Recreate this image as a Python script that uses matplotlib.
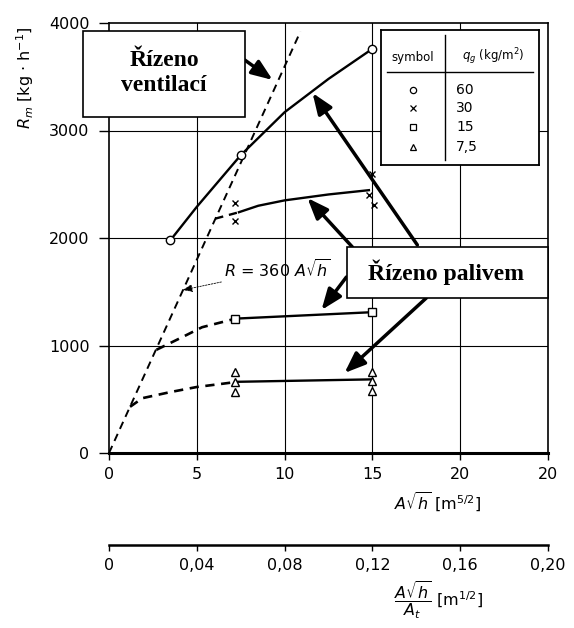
import matplotlib

matplotlib.use("Agg")
import matplotlib.pyplot as plt
from matplotlib.patches import Rectangle

plt.rcParams["font.family"] = ["DejaVu Sans"]
plt.rcParams["mathtext.fontset"] = "dejavusans"

# Ventilací řízená mez  R = 360 A*sqrt(h)
vent_x = [0, 10.9]
vent_y = [0, 3920]

# q_g = 60 kg/m2 (kroužky)
c60_x = [3.5, 7.5, 15]
c60_y = [1980, 2770, 3760]
curve60_x = [3.5, 5, 7.5, 10, 12.5, 15]
curve60_y = [1980, 2290, 2770, 3170, 3480, 3760]

# q_g = 30 (křížky)
x30_x = [7.2, 7.2, 15, 14.8, 15.1]
x30_y = [2330, 2160, 2600, 2400, 2310]
curve30_x = [7.4, 8.5, 10, 12.5, 14.8]
curve30_y = [2240, 2300, 2350, 2405, 2445]
dash30_x = [6.05, 7.4]
dash30_y = [2180, 2240]

# q_g = 15 (čtverečky)
s15_x = [7.2, 15]
s15_y = [1250, 1310]
dash15_x = [2.7, 4.2, 5.3, 6.5, 7.2]
dash15_y = [960, 1080, 1170, 1220, 1250]

# q_g = 7,5 (trojúhelníky)
t75_x = [7.2, 7.2, 7.2, 15, 15, 15]
t75_y = [755, 660, 570, 755, 670, 575]
curve75_x = [7.2, 15]
curve75_y = [662, 685]
dash75_x = [1.2, 1.9, 3.5, 5.0, 6.5, 7.2]
dash75_y = [430, 510, 567, 614, 645, 660]

x_ticks = [0, 5, 10, 15, 20, 25]
x_labels = ["0", "5", "10", "15", "20", "20"]
y_ticks = [0, 1000, 2000, 3000, 4000]
x2_labels = ["0", "0,04", "0,08", "0,12", "0,16", "0,20"]

legend_markers = ["o", "x", "s", "^"]
legend_qg = ["60", "30", "15", "7,5"]

# šipky (ocas -> hrot) v datových souřadnicích
arrows = [
    ((7.73, 3656), (9.32, 3470)),
    ((17.56, 1935), (11.59, 3349)),
    ((13.86, 1916), (11.3, 2372)),
    ((13.52, 1637), (12.1, 1330)),
    ((18.07, 1442), (13.41, 744)),
]

W, H = 574, 628
fig = plt.figure(figsize=(W / 100, H / 100), dpi=100)
fig.patch.set_facecolor("white")


def fx(px):
    return px / W


def fy(py):
    return 1 - py / H


ax = fig.add_axes([fx(109), fy(453), fx(548) - fx(109), fy(23) - fy(453)])
ax.set_xlim(0, 25)
ax.set_ylim(0, 4000)

for x in [5, 10, 15, 20]:
    ax.axvline(x, color="k", lw=0.8, zorder=0)
for y in [1000, 2000, 3000]:
    ax.axhline(y, color="k", lw=0.8, zorder=0)

mk = dict(mfc="white", mec="k", mew=1.0, ls="none", zorder=4)
ax.plot(vent_x, vent_y, color="k", lw=1.4, ls=(0, (4, 2.8)), zorder=2)

ax.plot(curve60_x, curve60_y, color="k", lw=1.7, zorder=3)
ax.plot(c60_x, c60_y, marker="o", ms=6, **mk)

ax.plot(dash30_x, dash30_y, color="k", lw=1.7, ls=(0, (3.5, 2.5)), zorder=3)
ax.plot(curve30_x, curve30_y, color="k", lw=1.7, zorder=3)
ax.plot(x30_x, x30_y, marker="x", ms=5, **mk)

ax.plot(dash15_x, dash15_y, color="k", lw=1.9, ls=(0, (3.5, 2.5)), zorder=3)
ax.plot(s15_x, s15_y, color="k", lw=1.7, zorder=3)
ax.plot(s15_x, s15_y, marker="s", ms=6, **mk)

ax.plot(dash75_x, dash75_y, color="k", lw=1.9, ls=(0, (3.5, 2.5)), zorder=3)
ax.plot(curve75_x, curve75_y, color="k", lw=1.7, zorder=3)
ax.plot(t75_x, t75_y, marker="^", ms=5.5, **mk)

ax.annotate(
    r"$R$ = 360 $A\sqrt{h}$", xy=(4.2, 1516), xytext=(9.6, 1700), fontsize=11.5,
    ha="center", va="center",
    arrowprops=dict(arrowstyle="-|>,head_length=0.5,head_width=0.2", lw=0.6,
                    ls=(0, (2, 1.5)), color="k", shrinkA=38, shrinkB=0),
)

for tail, tip in arrows:
    ax.annotate(
        "", xy=tip, xytext=tail,
        arrowprops=dict(arrowstyle="-|>,head_length=0.9,head_width=0.35", lw=2.5,
                        color="k", mutation_scale=14, shrinkA=0, shrinkB=0),
        zorder=6,
    )

ax.set_xticks(x_ticks)
ax.set_xticklabels(x_labels)
ax.set_yticks(y_ticks)
ax.tick_params(axis="both", direction="out", length=5, width=1, labelsize=11.5, pad=5)
ax.tick_params(axis="y", length=7, pad=7)
for side in ["top", "left", "right"]:
    ax.spines[side].set_linewidth(1.2)
ax.spines["bottom"].set_linewidth(2.2)

# druhá (spodní) osa
ax2 = fig.add_axes([fx(109), fy(545), fx(548) - fx(109), 0.0001])
ax2.set_xlim(0, 0.20)
ax2.set_ylim(0, 1)
ax2.set_yticks([])
ax2.set_xticks([0, 0.04, 0.08, 0.12, 0.16, 0.20])
ax2.set_xticklabels(x2_labels)
ax2.tick_params(axis="x", direction="out", length=4, width=1, labelsize=11.5, pad=5)
for side in ["top", "left", "right"]:
    ax2.spines[side].set_visible(False)
ax2.spines["bottom"].set_linewidth(1.8)
ax2.patch.set_visible(False)

fig.text(fx(438), fy(502), r"$A\sqrt{h}$ [m$^{5/2}$]", fontsize=11.5, ha="center", va="center")
fig.text(fx(439), fy(600), r"$\dfrac{A\sqrt{h}}{A_t}$ [m$^{1/2}$]", fontsize=11.5,
         ha="center", va="center")
fig.text(fx(25), fy(78), r"$R_m$ [kg $\cdot$ h$^{-1}$]", fontsize=11.5, rotation=90,
         ha="center", va="center")

# textové rámečky
serif = dict(family="Liberation Serif", weight="bold", fontsize=17, color="k")
fig.patches.append(Rectangle((fx(83), fy(117)), fx(245) - fx(83), fy(31) - fy(117),
                             transform=fig.transFigure, facecolor="white",
                             edgecolor="k", lw=1.2, zorder=5))
fig.text(fx(164), fy(73), "Řízeno\nventilací", ha="center", va="center",
         linespacing=1.25, zorder=6, **serif)
fig.patches.append(Rectangle((fx(347), fy(298)), fx(548) - fx(347), fy(247) - fy(298),
                             transform=fig.transFigure, facecolor="white",
                             edgecolor="k", lw=1.2, zorder=5))
fig.text(fx(446), fy(272), "Řízeno palivem", ha="center", va="center", zorder=6, **serif)

# legenda jako tabulka
lg = fig.add_axes([fx(381), fy(165), fx(539) - fx(381), fy(30) - fy(165)])
lg.set_xlim(0, 1)
lg.set_ylim(0, 1)
lg.set_xticks([])
lg.set_yticks([])
for s in lg.spines.values():
    s.set_linewidth(1.3)
lg.text(0.20, 0.80, "symbol", fontsize=8.5, ha="center", va="center")
lg.text(0.71, 0.80, r"$q_g$ (kg/m$^2$)", fontsize=8.5, ha="center", va="center")
lg.plot([0.04, 0.96], [0.69, 0.69], color="k", lw=1.0)
lg.plot([0.405, 0.405], [0.04, 0.96], color="k", lw=1.0)
rows = [0.556, 0.422, 0.281, 0.133]
for m, q, yv in zip(legend_markers, legend_qg, rows):
    lg.plot([0.20], [yv], marker=m, ms=4.5, mfc="white", mec="k", mew=0.9, ls="none")
    lg.text(0.475, yv, q, fontsize=10, ha="left", va="center")

fig.savefig("out.png", dpi=100, facecolor="white")
